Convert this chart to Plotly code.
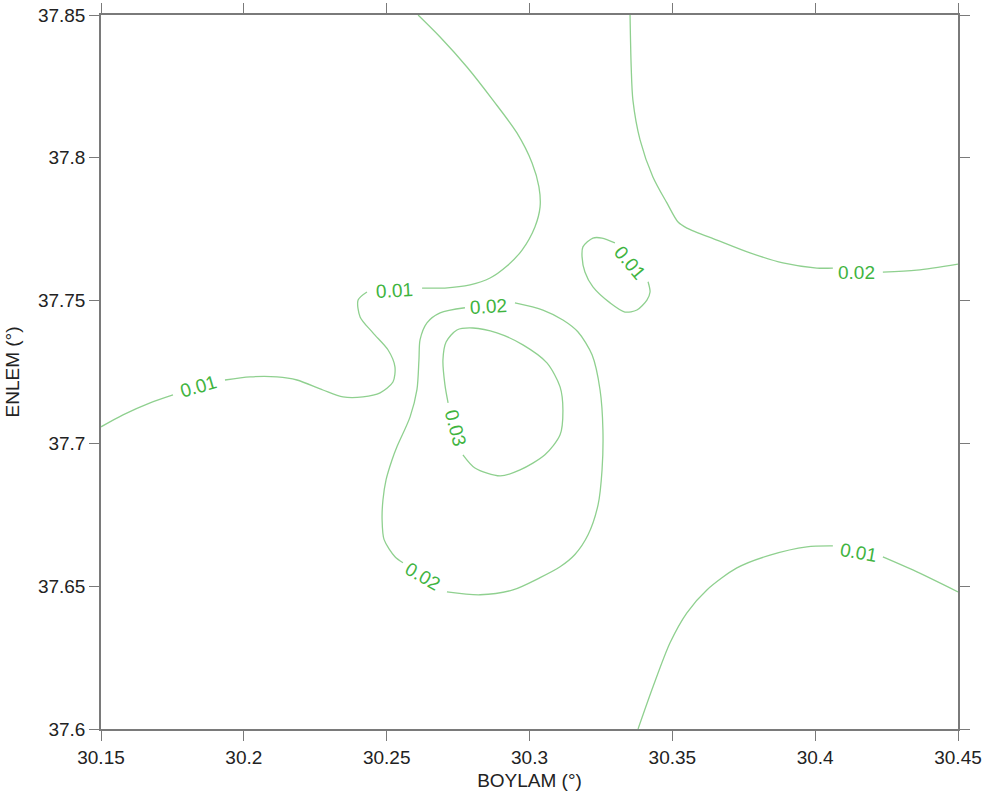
import plotly.graph_objects as go

# ---- contour polylines (lon, lat); None marks the gap left for a label ----
c01_left_lon = [30.15, 30.1577, 30.1672, 30.1752, None,
                30.1934, 30.2022, 30.2116, 30.2186, 30.2277, 30.2347, 30.2417, 30.2477,
                30.2522, 30.2529, 30.2505, 30.2452, 30.2407, 30.2400, 30.2431, None,
                30.2624, 30.2704, 30.2792, 30.2862, 30.2921, 30.2974, 30.3019, 30.3037,
                30.3033, 30.3009, 30.2956, 30.2872, 30.2781, 30.2687, 30.2610]
c01_left_lat = [37.7058, 37.7100, 37.7142, 37.7170, None,
                37.7222, 37.7233, 37.7233, 37.7222, 37.7187, 37.7163, 37.7163, 37.7177,
                37.7215, 37.7268, 37.7327, 37.7387, 37.7443, 37.7502, 37.7530, None,
                37.7544, 37.7544, 37.7555, 37.7579, 37.7621, 37.7677, 37.7758, 37.7828,
                37.7898, 37.7982, 37.8087, 37.8202, 37.8318, 37.8423, 37.8500]

c02_loop_lon = [30.2949, 30.3047, 30.3117, 30.3170, 30.3219, 30.3247, 30.3257, 30.3254,
                30.3240, 30.3205, 30.3159, 30.3107, 30.3037, 30.2942, 30.2827, 30.2711, None,
                30.2557, 30.2529, 30.2491, 30.2484, 30.2487, 30.2498, 30.2519, 30.2536,
                30.2582, 30.2606, 30.2613, 30.2617, 30.2641, 30.2687, 30.2774]
c02_loop_lat = [37.7492, 37.7467, 37.7432, 37.7390, 37.7310, 37.7187, 37.7047, 37.6908,
                37.6785, 37.6680, 37.6611, 37.6568, 37.6530, 37.6487, 37.6470, 37.6480, None,
                37.6582, 37.6603, 37.6663, 37.6733, 37.6802, 37.6873, 37.6943, 37.6988,
                37.7093, 37.7188, 37.7293, 37.7363, 37.7422, 37.7457, 37.7475]

c03_loop_lon = [30.2767, 30.2809, 30.2897, 30.2967, 30.3054, 30.3107, 30.3117, 30.3107,
                30.3061, 30.2977, 30.2886, 30.2802, 30.2746, 30.2708, 30.2697, 30.2704, 30.2715]
c03_loop_lat = [37.6960, 37.6914, 37.6886, 37.6907, 37.6960, 37.7030, 37.7117, 37.7198,
                37.7282, 37.7345, 37.7387, 37.7404, 37.7397, 37.7355, 37.7292, 37.7205, 37.7142]

c01_oval_lon = [30.3415, 30.3422, 30.3411, 30.3376, 30.3334, 30.3282, 30.3222, 30.3194,
                30.3184, 30.3187, 30.3222, 30.3254, 30.3299]
c01_oval_lat = [37.7566, 37.7530, 37.7502, 37.7467, 37.7460, 37.7492, 37.7548, 37.7600,
                37.7653, 37.7688, 37.7719, 37.7719, 37.7702]

c02_ne_lon = [30.3352, 30.3356, 30.3362, 30.3387, 30.3432, 30.3481, 30.3520, 30.3551,
              30.3656, 30.3772, 30.3887, 30.4006, 30.4062, None, 30.4237, 30.4356, 30.4500]
c02_ne_lat = [37.8500, 37.8318, 37.8202, 37.8063, 37.7933, 37.7842, 37.7775, 37.7754,
              37.7712, 37.7667, 37.7632, 37.7614, 37.7614, None, 37.7600, 37.7607, 37.7628]

c01_se_lon = [30.3380, 30.3432, 30.3492, 30.3551, 30.3621, 30.3726, 30.3842, 30.3971,
              30.4062, None, 30.4237, 30.4342, 30.4500]
c01_se_lat = [37.6000, 37.6147, 37.6302, 37.6407, 37.6487, 37.6564, 37.6609, 37.6638,
              37.6641, None, 37.6603, 37.6557, 37.6480]

# ---- contour labels ----
label_text = ["0.01", "0.01", "0.02", "0.02", "0.03", "0.01", "0.02", "0.01"]
label_lon = [30.1840, 30.2529, 30.2855, 30.2627, 30.2740, 30.3352, 30.4146, 30.4150]
label_lat = [37.7198, 37.7534, 37.7478, 37.6533, 37.7055, 37.7635, 37.7600, 37.6617]
label_angle = [-16, -3, -3, 30, 75, 50, 0, 10]

x_ticks = [30.15, 30.2, 30.25, 30.3, 30.35, 30.4, 30.45]
x_ticktext = ["30.15", "30.2", "30.25", "30.3", "30.35", "30.4", "30.45"]
y_ticks = [37.6, 37.65, 37.7, 37.75, 37.8, 37.85]
y_ticktext = ["37.6", "37.65", "37.7", "37.75", "37.8", "37.85"]

LINE_COLOR = "#8fd08f"
LABEL_COLOR = "#3fb43f"
FONT = "Liberation Sans, Arial, sans-serif"

fig = go.Figure()
for lon, lat in [(c01_left_lon, c01_left_lat), (c02_loop_lon, c02_loop_lat),
                 (c03_loop_lon, c03_loop_lat), (c01_oval_lon, c01_oval_lat),
                 (c02_ne_lon, c02_ne_lat), (c01_se_lon, c01_se_lat)]:
    fig.add_trace(go.Scatter(x=lon, y=lat, mode="lines",
                             line=dict(color=LINE_COLOR, width=1.3, shape="spline", smoothing=0.8),
                             connectgaps=False, hoverinfo="skip", showlegend=False))

for t, lx, ly, a in zip(label_text, label_lon, label_lat, label_angle):
    fig.add_annotation(x=lx, y=ly, text=t, showarrow=False, textangle=a,
                       font=dict(family=FONT, size=19, color=LABEL_COLOR))

axis_common = dict(showline=True, linecolor="#7a7a7a", linewidth=1.5, mirror="ticks",
                   ticks="outside", ticklen=10, tickwidth=1, tickcolor="#7a7a7a",
                   showgrid=False, zeroline=False, automargin=False,
                   tickfont=dict(family=FONT, size=19, color="#222222"))

fig.update_xaxes(range=[30.15, 30.45], tickvals=x_ticks, ticktext=x_ticktext,
                 title=dict(text="BOYLAM (°)", standoff=7,
                            font=dict(family=FONT, size=19, color="#222222")),
                 **axis_common)
fig.update_yaxes(range=[37.6, 37.85], tickvals=y_ticks, ticktext=y_ticktext,
                 title=dict(text="ENLEM (°)", standoff=13,
                            font=dict(family=FONT, size=19, color="#222222")),
                 **axis_common)

fig.update_layout(width=989, height=803, autosize=False,
                  margin=dict(l=101, r=31, t=15, b=74),
                  paper_bgcolor="white", plot_bgcolor="white")

fig.write_html("out.html")
